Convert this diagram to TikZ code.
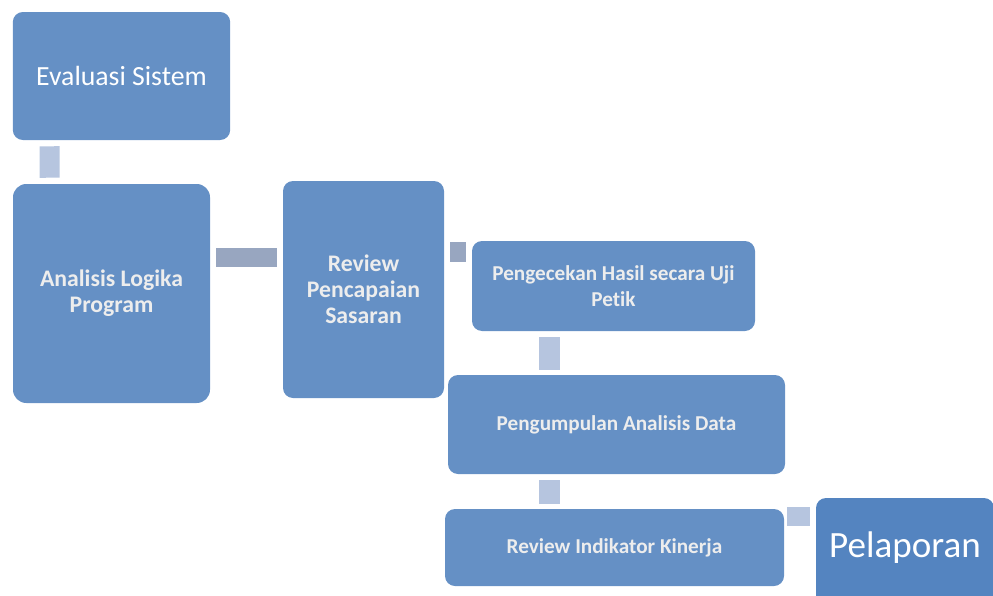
\documentclass[tikz,border=0pt]{standalone}
\usepackage{fontspec}
\setmainfont{Carlito}[Ligatures={NoCommon}]
\definecolor{boxblue}{HTML}{6590C5}
\definecolor{lapblue}{HTML}{5484C0}
\definecolor{connlight}{HTML}{B6C5DF}
\definecolor{conndark}{HTML}{98A6C0}
\definecolor{boldtxt}{HTML}{EDEDED}
\begin{document}
\begin{tikzpicture}[x=0.75pt,y=-0.75pt,
  stagebox/.style={fill=boxblue, draw=none, rounded corners=7.5pt, inner sep=0pt, align=center},
  boldlabel/.style={text=boldtxt, font=\bfseries\fontsize{17.8pt}{19.5pt}\selectfont},
  smalllabel/.style={text=boldtxt, font=\bfseries\fontsize{15.9pt}{19.5pt}\selectfont},
  biglabel/.style={text=white, font=\fontsize{20.8pt}{24pt}\selectfont},
  conn/.style={line cap=butt, line width=15pt, draw=connlight},
  conndk/.style={line cap=butt, line width=14.5pt, draw=conndark}]
\useasboundingbox (0,0) rectangle (993,596);
\begin{scope}
\clip (0,0) rectangle (993,596);
\node[stagebox, biglabel, minimum width=163pt, minimum height=96pt] (eval) at (121.5,76) {Evaluasi Sistem};
\node[stagebox, boldlabel, rounded corners=10pt, minimum width=147.75pt, minimum height=164.25pt] (anal) at (111.5,293.5) {Analisis Logika\\Program};
\node[stagebox, boldlabel, minimum width=120.75pt, minimum height=162.75pt] (rev) at (363.5,289.5) {Review\\Pencapaian\\Sasaran};
\node[stagebox, smalllabel, minimum width=212.25pt, minimum height=67.5pt] (cek) at (613.5,286) {Pengecekan Hasil secara Uji\\Petik};
\node[stagebox, smalllabel, minimum width=252.75pt, minimum height=74.25pt] (kump) at (616.5,424.5) {Pengumpulan Analisis Data};
\node[stagebox, smalllabel, minimum width=254.25pt, minimum height=57.75pt] (rik) at (614.5,547.5) {Review Indikator Kinerja};
\fill[lapblue] (816,548) rectangle (1000,600);
\node[stagebox, fill=lapblue, text=white, font=\fontsize{27.8pt}{32pt}\selectfont, minimum width=133.5pt, minimum height=75pt] (lapor) at (905,548) {Pelaporan};
\end{scope}
% connectors
\draw[conn, shorten <=4.5pt, shorten >=4.5pt] ([xshift=27.75pt]eval.south west) -- ([xshift=27.75pt]anal.north west);
\draw[conndk, shorten <=4.5pt, shorten >=4.5pt] ([yshift=27pt]anal.east) -- ([yshift=24pt]rev.west);
\draw[conndk, shorten <=4.5pt, shorten >=4.5pt] ([yshift=28.125pt]rev.east) -- ([yshift=25.5pt]cek.west);
\draw[conn, line width=15.75pt, shorten <=4.5pt, shorten >=3.75pt] ([xshift=-48pt]cek.south) -- ([xshift=-50.25pt]kump.north);
\draw[conn, line width=15.75pt, shorten <=4.5pt, shorten >=3.75pt] ([xshift=-50.25pt]kump.south) -- ([xshift=-48.75pt]rik.north);
\draw[conn, line width=14.25pt, shorten <=2.25pt, shorten >=4.5pt] ([yshift=23.25pt]rik.east) -- ([yshift=23.625pt]lapor.west);
\end{tikzpicture}
\end{document}
